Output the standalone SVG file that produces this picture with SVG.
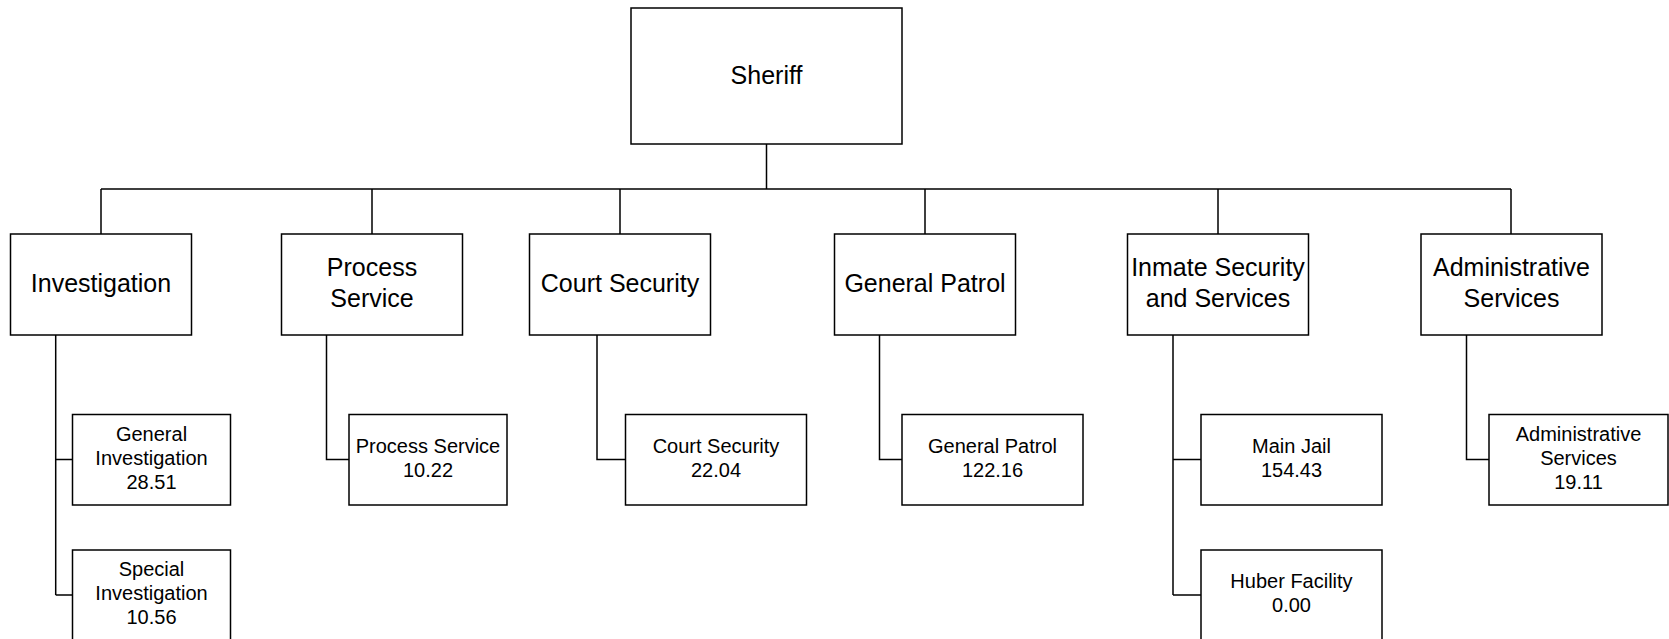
<svg xmlns="http://www.w3.org/2000/svg" width="1669" height="639" viewBox="0 0 1669 639">
<style>
.box{fill:#fff;stroke:#000;stroke-width:1.5}
.c{fill:none;stroke:#000;stroke-width:1.5}
.t1{font-family:"Liberation Sans",Arial,sans-serif;font-size:25px;fill:#000;text-anchor:middle}
.t2{font-family:"Liberation Sans",Arial,sans-serif;font-size:20px;fill:#000;text-anchor:middle}
</style>
<rect width="1669" height="639" fill="#fff"/>
<g id="connectors">
<path class="c" d="M766.5 144V189M101 189H1511M101 189V234M372 189V234M620 189V234M925 189V234M1218 189V234M1511 189V234"/>
<path class="c" d="M55.7 335V595M55.7 459.5H72.5M55.7 595H72.5"/>
<path class="c" d="M326.5 335V459.5H349"/>
<path class="c" d="M597 335V459.5H625.5"/>
<path class="c" d="M879.5 335V459.5H902"/>
<path class="c" d="M1173 335V595M1173 459.5H1201M1173 595H1201"/>
<path class="c" d="M1466.5 335V459.5H1489"/>
</g>
<g id="sheriff"><rect class="box" x="631" y="8" width="271" height="136"/><text class="t1" x="766.5" y="83.5">Sheriff</text></g>
<g id="investigation"><rect class="box" x="10.5" y="234" width="181" height="101"/><text class="t1" x="101" y="292">Investigation</text></g>
<g id="process-service"><rect class="box" x="281.5" y="234" width="181" height="101"/><text class="t1" x="372" y="276">Process</text><text class="t1" x="372" y="306.5">Service</text></g>
<g id="court-security"><rect class="box" x="529.5" y="234" width="181" height="101"/><text class="t1" x="620" y="292">Court Security</text></g>
<g id="general-patrol"><rect class="box" x="834.5" y="234" width="181" height="101"/><text class="t1" x="925" y="292">General Patrol</text></g>
<g id="inmate-security"><rect class="box" x="1127.5" y="234" width="181" height="101"/><text class="t1" x="1218" y="276">Inmate Security</text><text class="t1" x="1218" y="306.5">and Services</text></g>
<g id="administrative-services"><rect class="box" x="1421" y="234" width="181" height="101"/><text class="t1" x="1511.5" y="276">Administrative</text><text class="t1" x="1511.5" y="306.5">Services</text></g>
<g id="general-investigation"><rect class="box" x="72.5" y="414.5" width="158" height="90.5"/><text class="t2" x="151.5" y="441">General</text><text class="t2" x="151.5" y="465">Investigation</text><text class="t2" x="151.5" y="489">28.51</text></g>
<g id="special-investigation"><rect class="box" x="72.5" y="550" width="158" height="92"/><text class="t2" x="151.5" y="576">Special</text><text class="t2" x="151.5" y="600">Investigation</text><text class="t2" x="151.5" y="624">10.56</text></g>
<g id="process-service-unit"><rect class="box" x="349" y="414.5" width="158" height="90.5"/><text class="t2" x="428" y="453">Process Service</text><text class="t2" x="428" y="476.5">10.22</text></g>
<g id="court-security-unit"><rect class="box" x="625.5" y="414.5" width="181" height="90.5"/><text class="t2" x="716" y="453">Court Security</text><text class="t2" x="716" y="476.5">22.04</text></g>
<g id="general-patrol-unit"><rect class="box" x="902" y="414.5" width="181" height="90.5"/><text class="t2" x="992.5" y="453">General Patrol</text><text class="t2" x="992.5" y="476.5">122.16</text></g>
<g id="main-jail"><rect class="box" x="1201" y="414.5" width="181" height="90.5"/><text class="t2" x="1291.5" y="453">Main Jail</text><text class="t2" x="1291.5" y="476.5">154.43</text></g>
<g id="huber-facility"><rect class="box" x="1201" y="550" width="181" height="92"/><text class="t2" x="1291.5" y="588">Huber Facility</text><text class="t2" x="1291.5" y="612">0.00</text></g>
<g id="administrative-services-unit"><rect class="box" x="1489" y="414.5" width="179" height="90.5"/><text class="t2" x="1578.5" y="441">Administrative</text><text class="t2" x="1578.5" y="465">Services</text><text class="t2" x="1578.5" y="489">19.11</text></g>
</svg>
